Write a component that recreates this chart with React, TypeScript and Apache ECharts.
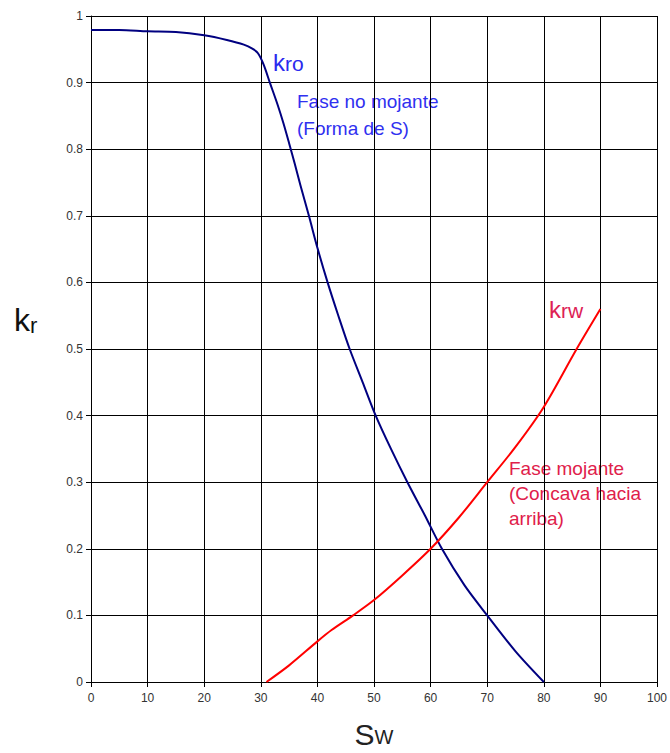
import React, { useEffect, useRef } from "react";
import * as echarts from "echarts";

const kroSw = [0, 5, 10, 15, 20, 24, 27, 28.5, 29.5, 30.5, 31.6, 33, 34, 35, 36, 37, 38.5, 40, 41.8, 43.7, 45.7, 48, 50.3, 53, 55.9, 59, 62, 66, 70, 75, 80];
const kroVal = [0.979, 0.979, 0.977, 0.976, 0.971, 0.964, 0.957, 0.951, 0.944, 0.927, 0.9, 0.866, 0.839, 0.809, 0.778, 0.746, 0.7, 0.652, 0.6, 0.55, 0.5, 0.45, 0.4, 0.35, 0.3, 0.25, 0.2, 0.145, 0.1, 0.046, 0];
const krwSw = [31, 35, 40, 42.5, 46.3, 50, 55, 60, 65, 70, 75, 80, 85.8, 90];
const krwVal = [0, 0.025, 0.061, 0.078, 0.1, 0.123, 0.16, 0.2, 0.247, 0.3, 0.353, 0.413, 0.5, 0.56];
const xTicks = [0, 10, 20, 30, 40, 50, 60, 70, 80, 90, 100];

export default function App() {
  const ref = useRef<HTMLDivElement>(null);
  useEffect(() => {
    document.body.style.margin = "0";
    document.body.style.overflow = "hidden";
    const chart = echarts.init(ref.current!, null, { renderer: "svg" });
    const font = "Liberation Sans, Arial, sans-serif";
    chart.setOption({
      animation: false,
      backgroundColor: "#fff",
      grid: { left: 91, right: 13, top: 16, bottom: 71, containLabel: false, outerBoundsMode: "none" },
      xAxis: {
        type: "value",
        min: xTicks[0],
        max: xTicks[xTicks.length - 1],
        interval: 10,
        axisLine: { show: true, lineStyle: { color: "#000", width: 1 } },
        axisTick: { show: true, length: 5, lineStyle: { color: "#000" } },
        axisLabel: { color: "#333", fontSize: 12, fontFamily: font, margin: 10 },
        splitLine: { show: true, lineStyle: { color: "#000", width: 1 } },
        name: "{a|S}{b|W}",
        nameLocation: "middle",
        nameGap: 37,
        nameTextStyle: {
          rich: {
            a: { fontSize: 30, fontFamily: font, color: "#222" },
            b: { fontSize: 20, fontFamily: font, color: "#222", verticalAlign: "bottom", padding: [0, 0, 2, 0] },
          },
        },
      },
      yAxis: {
        type: "value",
        min: 0,
        max: 1,
        interval: 0.1,
        axisLine: { show: true, lineStyle: { color: "#000", width: 1 } },
        axisTick: { show: true, length: 5, lineStyle: { color: "#000" } },
        axisLabel: { color: "#333", fontSize: 12, fontFamily: font, margin: 8 },
        splitLine: { show: true, lineStyle: { color: "#000", width: 1 } },
      },
      graphic: [
        {
          type: "text",
          left: 14,
          top: 304,
          style: { text: "{a|k}{b|r}", rich: { a: { fontSize: 32, fontFamily: font, fill: "#111" }, b: { fontSize: 22, fontFamily: font, fill: "#111", verticalAlign: "bottom" } } },
        },
        {
          type: "text",
          left: 273,
          top: 50,
          style: { text: "{a|k}{b|ro}", rich: { a: { fontSize: 24, fontFamily: font, fill: "#2a2aee" }, b: { fontSize: 21, fontFamily: font, fill: "#2a2aee", verticalAlign: "bottom" } } },
        },
        {
          type: "text",
          left: 297,
          top: 88,
          style: { text: "Fase no mojante\n(Forma de S)", fontSize: 19, lineHeight: 27, fontFamily: font, fill: "#3030f0" },
        },
        {
          type: "text",
          left: 549,
          top: 297,
          style: { text: "{a|k}{b|rw}", rich: { a: { fontSize: 24, fontFamily: font, fill: "#dd2255" }, b: { fontSize: 21, fontFamily: font, fill: "#dd2255", verticalAlign: "bottom" } } },
        },
        {
          type: "text",
          left: 509,
          top: 456,
          style: { text: "Fase mojante\n(Concava hacia\narriba)", fontSize: 19, lineHeight: 25, fontFamily: font, fill: "#e0204a" },
        },
      ],
      series: [
        {
          type: "line",
          data: kroSw.map((x, i) => [x, kroVal[i]]),
          smooth: 0.3,
          showSymbol: false,
          lineStyle: { color: "#000080", width: 2 },
          z: 5,
        },
        {
          type: "line",
          data: krwSw.map((x, i) => [x, krwVal[i]]),
          smooth: 0.3,
          showSymbol: false,
          lineStyle: { color: "#ff0000", width: 2 },
          z: 5,
        },
      ],
    });
    return () => chart.dispose();
  }, []);
  return <div ref={ref} style={{ width: 670, height: 753 }} />;
}
